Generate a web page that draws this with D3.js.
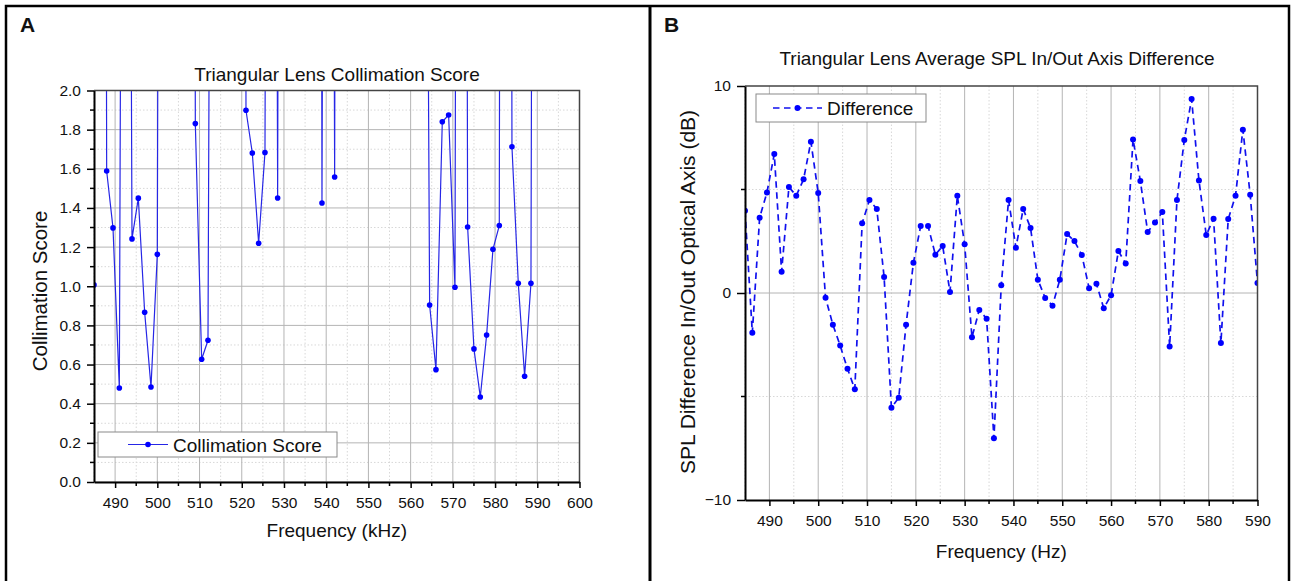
<!DOCTYPE html>
<html>
<head>
<meta charset="utf-8">
<script src="https://cdn.jsdelivr.net/npm/d3@7"></script>
<style>
  body { margin: 0; background: #fff; }
  text { font-family: "Liberation Sans", Arial, sans-serif; fill: #111; }
</style>
</head>
<body>
<div id="chart"></div>
<script>
// frequency samples, shared by both panels (kHz in A, Hz in B)
var frequencies = [485,486.5,488,489.5,491,492.5,494,495.5,497,498.5,500,501.5,503,504.5,506,507.5,
  509,510.5,512,513.5,515,516.5,518,519.5,521,522.5,524,525.5,527,528.5,530,531.5,533,534.5,536,537.5,
  539,540.5,542,543.5,545,546.5,548,549.5,551,552.5,554,555.5,557,558.5,560,561.5,563,564.5,566,567.5,
  569,570.5,572,573.5,575,576.5,578,579.5,581,582.5,584,585.5,587,588.5,590];

// panel A - collimation score (many values run off the top of the 0..2 axis)
var collimationScore = [1.007,18.5,1.589,1.298,0.48,9.7,1.242,1.45,0.867,0.485,1.163,14.0,26.0,19.5,11.2,23.0,
  1.831,0.627,0.724,8.9,17.5,29.0,13.4,21.0,1.899,1.681,1.22,1.683,12.6,1.451,16.0,24.5,10.8,33.0,15.2,20.5,
  1.425,12.1,1.558,18.0,27.5,14.5,35.0,22.0,11.5,30.5,17.0,25.0,13.0,40.0,19.0,9.5,7.0,0.904,0.574,1.84,
  1.875,0.995,15.5,1.303,0.68,0.434,0.751,1.189,1.31,21.5,1.713,1.015,0.54,1.015,13.5];

// panel B - SPL difference in/out of optical axis (dB)
var splDifference = [3.97,-1.92,3.64,4.86,6.71,1.03,5.12,4.70,5.49,7.31,4.83,-0.23,-1.53,-2.54,-3.66,-4.65,
  3.37,4.49,4.06,0.77,-5.54,-5.06,-1.53,1.46,3.24,3.24,1.85,2.27,0.05,4.70,2.35,-2.14,-0.82,-1.24,-7.02,0.37,
  4.49,2.19,4.06,3.14,0.64,-0.24,-0.61,0.64,2.85,2.51,1.84,0.23,0.45,-0.74,-0.11,2.03,1.42,7.42,5.41,2.95,
  3.40,3.91,-2.58,4.49,7.39,9.37,5.44,2.80,3.59,-2.42,3.57,4.70,7.89,4.75,0.48];

var xTicksA = [490,500,510,520,530,540,550,560,570,580,590,600];
var xMinorA = [485,495,505,515,525,535,545,555,565,575,585,595];
var yTicksA = [0,0.2,0.4,0.6,0.8,1.0,1.2,1.4,1.6,1.8,2.0];
var yMinorA = [0.1,0.3,0.5,0.7,0.9,1.1,1.3,1.5,1.7,1.9];

var xTicksB = [490,500,510,520,530,540,550,560,570,580,590];
var xMinorB = [485,495,505,515,525,535,545,555,565,575,585];
var yTicksB = [-10,0,10];
var yMinorB = [-5,5];

var svg = d3.select("#chart").append("svg")
  .attr("width", 1291)
  .attr("height", 581);

// outer frame + divider
svg.append("rect").attr("x", 6).attr("y", 6).attr("width", 1283).attr("height", 600)
  .attr("fill", "none").attr("stroke", "#000").attr("stroke-width", 2.5);
svg.append("line").attr("x1", 650).attr("x2", 650).attr("y1", 6).attr("y2", 581)
  .attr("stroke", "#000").attr("stroke-width", 3);

function drawPanel(p) {
  var g = svg.append("g");
  var x = d3.scaleLinear().domain(p.xDomain).range([p.left, p.right]);
  var y = d3.scaleLinear().domain(p.yDomain).range([p.bottom, p.top]);

  // grid, minor dotted then major solid
  g.selectAll(".gxm").data(p.xMinor).enter().append("line")
    .attr("x1", x).attr("x2", x).attr("y1", p.top).attr("y2", p.bottom)
    .attr("stroke", "#d8d8d8").attr("stroke-dasharray", "1.5,2");
  g.selectAll(".gym").data(p.yMinor).enter().append("line")
    .attr("x1", p.left).attr("x2", p.right).attr("y1", y).attr("y2", y)
    .attr("stroke", "#d8d8d8").attr("stroke-dasharray", "1.5,2");
  g.selectAll(".gx").data(p.xTicks).enter().append("line")
    .attr("x1", x).attr("x2", x).attr("y1", p.top).attr("y2", p.bottom)
    .attr("stroke", "#b4b4b4").attr("stroke-width", 1);
  g.selectAll(".gy").data(p.yGrid).enter().append("line")
    .attr("x1", p.left).attr("x2", p.right).attr("y1", y).attr("y2", y)
    .attr("stroke", "#b4b4b4").attr("stroke-width", 1);

  // data
  var clipId = "clip" + p.name;
  svg.append("clipPath").attr("id", clipId).append("rect")
    .attr("x", p.left).attr("y", p.top)
    .attr("width", p.right - p.left).attr("height", p.bottom - p.top);
  var pts = p.xs.map(function(d, i) { return [d, p.ys[i]]; });
  var line = d3.line().x(function(d) { return x(d[0]); }).y(function(d) { return y(d[1]); });
  var dg = g.append("g").attr("clip-path", "url(#" + clipId + ")");
  dg.append("path").datum(pts).attr("d", line)
    .attr("fill", "none").attr("stroke", p.lineColor)
    .attr("stroke-width", p.lineWidth)
    .attr("stroke-dasharray", p.dash);
  dg.selectAll("circle").data(pts).enter().append("circle")
    .attr("cx", function(d) { return x(d[0]); })
    .attr("cy", function(d) { return y(d[1]); })
    .attr("r", p.r).attr("fill", "#0000ff");

  // top / right frame
  g.append("path")
    .attr("d", "M" + p.left + "," + p.top + "H" + p.right + "V" + p.bottom)
    .attr("fill", "none").attr("stroke", "#444").attr("stroke-width", 1.5);

  // axes
  var xAxis = g.append("g").attr("transform", "translate(0," + p.bottom + ")")
    .call(d3.axisBottom(x).tickValues(p.xTicks).tickSize(6).tickSizeOuter(0).tickPadding(9)
      .tickFormat(d3.format("d")));
  var yAxis = g.append("g").attr("transform", "translate(" + p.left + ",0)")
    .call(d3.axisLeft(y).tickValues(p.yTicks).tickSize(p.yTickSize).tickSizeOuter(0).tickPadding(6)
      .tickFormat(p.yFormat));
  [xAxis, yAxis].forEach(function(a) {
    a.select(".domain").attr("stroke", "#000").attr("stroke-width", 2);
    a.selectAll(".tick line").attr("stroke", "#000").attr("stroke-width", 1.5);
    a.selectAll(".tick text").attr("font-size", 15.5).attr("font-family", "Liberation Sans, Arial, sans-serif").attr("fill", "#111");
  });
  g.selectAll(".mx").data(p.xMinor.filter(function(d) { return d > p.xDomain[0]; })).enter().append("line")
    .attr("x1", x).attr("x2", x).attr("y1", p.bottom).attr("y2", p.bottom + 4)
    .attr("stroke", "#000").attr("stroke-width", 1.5);
  g.selectAll(".my").data(p.yMinor).enter().append("line")
    .attr("x1", p.left - 4).attr("x2", p.left).attr("y1", y).attr("y2", y)
    .attr("stroke", "#000").attr("stroke-width", 1.5);

  // texts
  g.append("text").attr("x", p.titleX).attr("y", p.titleY).attr("text-anchor", "middle")
    .attr("font-size", 19).text(p.title);
  g.append("text").attr("x", (p.left + p.right) / 2).attr("y", p.xLabelY).attr("text-anchor", "middle")
    .attr("font-size", 19).text(p.xLabel);
  g.append("text").attr("transform", "translate(" + p.yLabelX + "," + p.yLabelY + ") rotate(-90)")
    .attr("text-anchor", "middle").attr("font-size", p.yLabelSize).text(p.yLabel);
  g.append("text").attr("x", p.letterX).attr("y", 32).attr("font-size", 21)
    .attr("font-weight", "bold").text(p.name);

  // legend
  var lg = g.append("g");
  lg.append("rect").attr("x", p.legend[0]).attr("y", p.legend[1])
    .attr("width", p.legend[2]).attr("height", p.legend[3])
    .attr("fill", "#fff").attr("stroke", "#8a8a8a").attr("stroke-width", 1);
  var ly = p.legend[1] + p.legend[3] / 2;
  lg.append("line").attr("x1", p.legend[0] + p.legendLine[0]).attr("x2", p.legend[0] + p.legendLine[1])
    .attr("y1", ly).attr("y2", ly)
    .attr("stroke", p.lineColor).attr("stroke-width", p.lineWidth).attr("stroke-dasharray", p.dash);
  lg.append("circle").attr("cx", p.legend[0] + (p.legendLine[0] + p.legendLine[1]) / 2).attr("cy", ly)
    .attr("r", p.r).attr("fill", "#0000ff");
  lg.append("text").attr("x", p.legend[0] + p.legendLine[1] + 5).attr("y", ly + 7)
    .attr("font-size", 19).text(p.legendText);
}

drawPanel({
  name: "A", letterX: 20,
  left: 94, right: 579.5, top: 90.5, bottom: 482,
  xDomain: [485, 600], yDomain: [0, 2],
  xTicks: xTicksA, xMinor: xMinorA, yTicks: yTicksA, yMinor: yMinorA, yGrid: yTicksA,
  yTickSize: 7, yFormat: d3.format(".1f"),
  xs: frequencies, ys: collimationScore,
  lineColor: "#2626e6", lineWidth: 1.2, dash: null, r: 2.8,
  title: "Triangular Lens Collimation Score", titleX: 337, titleY: 81,
  xLabel: "Frequency (kHz)", xLabelY: 537,
  yLabel: "Collimation Score", yLabelX: 47, yLabelY: 291, yLabelSize: 20.5,
  legend: [98, 432, 239, 25], legendLine: [30, 70], legendText: "Collimation Score"
});

drawPanel({
  name: "B", letterX: 664,
  left: 745, right: 1257.5, top: 86, bottom: 500,
  xDomain: [485, 590], yDomain: [-10, 10],
  xTicks: xTicksB, xMinor: xMinorB, yTicks: yTicksB, yMinor: yMinorB, yGrid: [0],
  yTickSize: 8, yFormat: d3.format("d"),
  xs: frequencies, ys: splDifference,
  lineColor: "#1010ee", lineWidth: 1.7, dash: "6.5,4.5", r: 3,
  title: "Triangular Lens Average SPL In/Out Axis Difference", titleX: 997, titleY: 65,
  xLabel: "Frequency (Hz)", xLabelY: 558,
  yLabel: "SPL Difference In/Out Optical Axis (dB)", yLabelX: 695, yLabelY: 292, yLabelSize: 21,
  legend: [756, 94, 170, 28], legendLine: [17, 66], legendText: "Difference"
});
</script>
</body>
</html>
